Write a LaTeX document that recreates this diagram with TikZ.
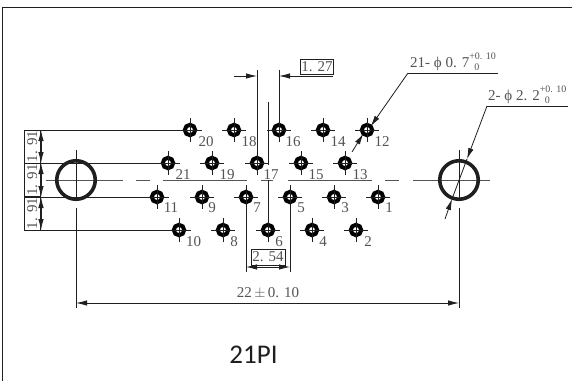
\documentclass[tikz,border=0pt]{standalone}
\usepackage{fontspec}
\setmainfont{Liberation Serif}
\newfontfamily\titlefont{Carlito}
\usetikzlibrary{arrows.meta}
\definecolor{ink}{gray}{0.12}
\definecolor{txt}{gray}{0.33}
\tikzset{
  dimline/.style={draw=ink,line width=0.8pt},
  dimarrow/.style={dimline,-{Latex[length=11pt,width=5.5pt]}},
  ringhole/.style={circle,draw=black,fill=white,line width=4pt,minimum size=10.4pt,inner sep=0pt,outer sep=0pt},
  bighole/.style={circle,draw=ink,line width=3.6pt,minimum size=38.5pt,inner sep=0pt},
  crossline/.style={draw=ink,line width=0.8pt},
  pinlabel/.style={text=txt,font=\fontsize{15}{15}\selectfont,inner sep=0pt},
  dimtext/.style={text=txt,font=\fontsize{15}{15}\selectfont,inner sep=1pt},
  boxtext/.style={dimtext,draw=ink,line width=0.7pt,inner sep=0pt},
  center line/.style={draw=txt,line width=0.9pt},
}
\newcommand{\pinhole}[5]{%
  \node[ringhole] (h#1) at (#2,#3) {};
  \draw[crossline] (#2-12,#3) -- (#2+12,#3) (#2,#3-12) -- (#2,#3+12);
  \node[pinlabel] (l#1) at (#4,#5) {#1};
}
\newcommand{\tolmark}{\rlap{\raisebox{8pt}{\fontsize{10}{10}\selectfont +0. 10}}\raisebox{-3pt}{\fontsize{10}{10}\selectfont\hspace{5pt}0}}
\begin{document}
\begin{tikzpicture}[x=1pt,y=-1pt]
\useasboundingbox (0,0) rectangle (572,381);
\fill[white] (0,0) rectangle (572,381);
% frame
\draw[draw=ink,line width=1pt] (572,7) -- (2.5,7) -- (2.5,381);
% centre line
\draw[center line] (45.5,180) -- (123,180) (136,180) -- (150,180) (163,180) -- (247,180)
  (261,180) -- (273,180) (288,180) -- (372,180) (385,180) -- (399,180) (413,180) -- (490,180);
% big holes
\node[bighole] (L) at (76,180) {};
\node[bighole] (R) at (459,180) {};
\coordinate (Lt) at (76,150);
\coordinate (Lb) at (76,308);
\coordinate (Rt) at (459,150);
\coordinate (Rb) at (459,308);
\draw[crossline] (Lt) -- (L.south);
\draw[crossline] (76,208) -- (Lb);
\draw[crossline] (Rt) -- (R.south);
\draw[crossline] (459,208) -- (Rb);
% extension lines first, so the holes cover them
\coordinate (d1) at (41,130);
\coordinate (d2) at (41,163);
\coordinate (d3) at (41,197);
\coordinate (d4) at (41,230);
\coordinate (t1) at (257,70);
\coordinate (t2) at (279,70);
\coordinate (b1) at (246,272);
\coordinate (b2) at (290,272);
\coordinate (c6) at (268,102);
\draw[dimline] (d1) -- (190,130);
\draw[dimline] (d2) -- (168,163);
\draw[dimline] (d3) -- (157,197);
\draw[dimline] (d4) -- (179,230);
\draw[dimline] (t1) -- (257,163);
\draw[dimline] (t2) -- (279,130);
\draw[dimline] (b1) -- (246,197);
\draw[dimline] (b2) -- (290,197);
\draw[dimline] (c6) -- (268,165);
\draw[dimline] (268,180) -- (268,230);
% pin holes
\pinhole{20}{190}{130}{206}{142}
\pinhole{18}{234}{130}{249}{142}
\pinhole{16}{279}{130}{293}{142}
\pinhole{14}{323}{130}{338}{142}
\pinhole{12}{367}{130}{382}{142}
\pinhole{21}{168}{163}{183}{174.5}
\pinhole{19}{212}{163}{227}{174.5}
\pinhole{17}{257}{163}{271}{174.5}
\pinhole{15}{301}{163}{316}{174.5}
\pinhole{13}{345}{163}{360}{174.5}
\pinhole{11}{157}{197}{171}{207.5}
\pinhole{9}{202}{197}{212}{207.5}
\pinhole{7}{246}{197}{257}{207.5}
\pinhole{5}{290}{197}{301}{207.5}
\pinhole{3}{334}{197}{345}{207.5}
\pinhole{1}{378}{197}{389}{207.5}
\pinhole{10}{179}{230}{193.5}{242}
\pinhole{8}{223}{230}{234}{242}
\pinhole{6}{268}{230}{279}{242}
\pinhole{4}{312}{230}{323}{242}
\pinhole{2}{356}{230}{368}{242}
% left stacked dimension
\draw[dimarrow] (41,146.5) -- (d1);
\draw[dimarrow] (41,146.5) -- (d2);
\draw[dimarrow] (41,180) -- (d2);
\draw[dimarrow] (41,180) -- (d3);
\draw[dimarrow] (41,213.5) -- (d3);
\draw[dimarrow] (41,213.5) -- (d4);
\node[boxtext,rotate=90,minimum width=33pt,minimum height=15.5pt] (b191a) at (32.2,146.5) {1. 91};
\node[boxtext,rotate=90,minimum width=33pt,minimum height=15.5pt] (b191b) at (32.2,180) {1. 91};
\node[boxtext,rotate=90,minimum width=33pt,minimum height=15.5pt] (b191c) at (32.2,213.5) {1. 91};
% 1.27
\coordinate (u1) at (234,76);
\coordinate (u2) at (333,76);
\coordinate (ut1) at (257,76);
\coordinate (ut2) at (279,76);
\draw[dimarrow] (u1) -- (ut1);
\draw[dimarrow] (u2) -- (ut2);
\node[boxtext,minimum width=33pt,minimum height=15.5pt] (b127) at (317,66.7) {1. 27};
% 2.54
\coordinate (v1) at (246,267);
\coordinate (v2) at (290,267);
\coordinate (vm) at (268,267);
\draw[dimarrow] (vm) -- (v1);
\draw[dimarrow] (vm) -- (v2);
\node[boxtext,minimum width=34pt,minimum height=16pt] (b254) at (268,257) {2. 54};
% 22
\coordinate (w1) at (76,303);
\coordinate (w2) at (459,303);
\coordinate (wm) at (267,303);
\draw[dimarrow] (wm) -- (w1);
\draw[dimarrow] (wm) -- (w2);
\node[dimtext] (t22) at (268,293) {22\,$\pm$\,0. 10};
% leader 21-phi
\coordinate (p1) at (408,73);
\coordinate (p2) at (498,73);
\coordinate (p3) at (352,152);
\draw[dimline] (p2) -- (p1);
\draw[dimarrow] (p1) -- (h12.45);
\draw[dimarrow] (p3) -- (h12.225);
\node[dimtext,anchor=base west,inner sep=0pt] (t21) at (410,67) {21- ϕ 0. 7\tolmark};
% leader 2-phi
\coordinate (q1) at (487,106);
\coordinate (q2) at (568,106);
\coordinate (q3) at (445,219);
\coordinate (q4) at (467,159);
\coordinate (q5) at (452,199);
\draw[dimline] (q2) -- (q1);
\draw[dimarrow] (q1) -- (q4);
\draw[dimline] (q4) -- (q5);
\draw[dimarrow] (q3) -- (q5);
\node[dimtext,anchor=base west,inner sep=0pt] (t2p) at (488,100) {2- ϕ 2. 2\tolmark};
% title
\node[text=ink,font=\titlefont\fontsize{27}{27}\selectfont,inner sep=0pt] (title) at (253.5,355) {21PI};
\end{tikzpicture}
\end{document}
